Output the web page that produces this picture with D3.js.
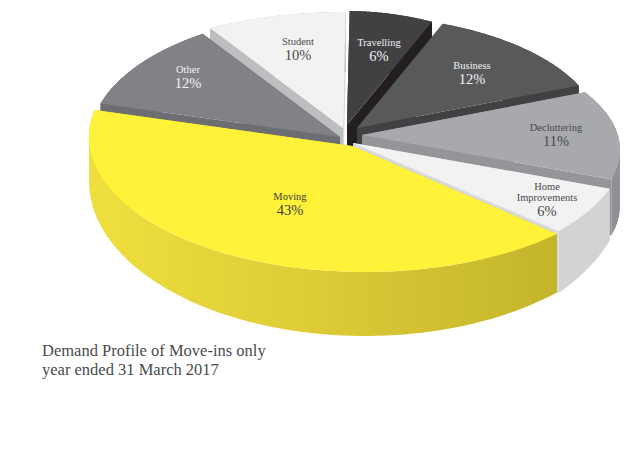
<!DOCTYPE html>
<html><head><meta charset="utf-8">
<script src="https://cdnjs.cloudflare.com/ajax/libs/d3/7.8.5/d3.min.js"></script>
<style>html,body{margin:0;background:#fff}svg{display:block}</style></head>
<body><div id="c"></div>
<script>
// Data, clockwise from the Moving slice
const categories = ["Moving","Other","Student","Travelling","Business","Decluttering","Home Improvements"];
const printedPercent = [43,12,10,6,12,11,6];
const drawnShare = [43.0,11.5,9.2,5.8,13.0,11.8,6.0];
const titleLines = ["Demand Profile of Move-ins only","year ended 31 March 2017"];

// Layout and style, per slice
const tipX = [352,340,343,347,357,362,353];
const tipY = [146,137,128,125,128,135,143];
const ellX = [365,345,345,345,355,365,360];
const ellY = [137,140,135,135,135,150,145];
const ellRx = [276,255,272,213,246,255,265];
const ellRy = [135,128,123,124,119,114,130];
const depthFrom = [61,60,60,60,60,56,52];
const depthTo = [61,60,60,60,60,56,62];
const floorCy = 181, floorRy = 155; // lower outline of the Moving slice's wall
const topFill = ["#fff238","#808285","#f2f2f2","#414042","#58595b","#a7a9ac","#f2f2f3"];
const edgeFill = ["#d8c832","#6d6e71","#bcbec0","#231f20","#414042","#939598","#d8d9db"];
const lastEdgeFill = ["#d8c832","#6d6e71","#d8d9db","#231f20","#414042","#939598","#d8d9db"];
const rimFill = ["url(#mv)","#6d6e71","#bcbec0","#231f20","#414042","#8e9093","#d1d3d4"];
const textFill = ["#3c3c3c","#f2f2f2","#4a4a4a","#f2f2f2","#f2f2f2","#4a4a4a","#4a4a4a"];
const labelX = [290,188,298,379,472,556,547];
const labelY = [197,70,42,43,66,128,187];
const paintOrder = [2,3,1,4,5,6,0];
const squash = 0.477, startDeg = 132;

const svg = d3.select("#c").append("svg").attr("width",628).attr("height",450);
const grad = svg.append("defs").append("linearGradient").attr("id","mv")
  .attr("gradientUnits","userSpaceOnUse").attr("x1",89).attr("x2",556).attr("y1",0).attr("y2",0);
[["0%","#efdf3e"],["50%","#dccb36"],["100%","#c3b42c"]].forEach(s=>grad.append("stop").attr("offset",s[0]).attr("stop-color",s[1]));

const start = startDeg*Math.PI/180;
const arcs = d3.pie().sort(null).startAngle(start).endAngle(start+2*Math.PI)(drawnShare);
const line = d3.line().x(p=>p[0]).y(p=>p[1]);

// where the ray at pie angle a from the slice's tip meets the slice's ellipse
function rim(i,a){
  const dx=Math.sin(a), dy=-Math.cos(a)*squash;
  const ox=(tipX[i]-ellX[i])/ellRx[i], oy=(tipY[i]-ellY[i])/ellRy[i];
  const ux=dx/ellRx[i], uy=dy/ellRy[i];
  const A=ux*ux+uy*uy, B=2*(ox*ux+oy*uy), C=ox*ox+oy*oy-1;
  const t=(-B+Math.sqrt(B*B-4*A*C))/(2*A);
  return [tipX[i]+t*dx, tipY[i]+t*dy];
}
const oriented=q=>d3.polygonArea(q)<0?q.slice().reverse():q;

paintOrder.forEach(i=>{
  const a=arcs[i], g=svg.append("g").attr("class","slice");
  const n=80;
  const outer=d3.range(0,n+1).map(k=>rim(i,a.startAngle+(a.endAngle-a.startAngle)*k/n));
  const dAt=d3.scaleLinear().domain([0,n]).range([depthFrom[i],depthTo[i]]);
  const under=k=>{
    const p=outer[k];
    if(i===0){
      const u=Math.max(-1,Math.min(1,(p[0]-ellX[0])/ellRx[0]));
      return [p[0],floorCy+floorRy*Math.sqrt(1-u*u)];
    }
    return [p[0],p[1]+dAt(k)];
  };
  const tip=[tipX[i],tipY[i]], tipLow=[tip[0],tip[1]+(depthFrom[i]+depthTo[i])/2];
  g.append("path").attr("d",line([tip,outer[n],under(n),tipLow])+"Z").attr("fill",lastEdgeFill[i]);
  g.append("path").attr("d",line([tip,outer[0],under(0),tipLow])+"Z").attr("fill",edgeFill[i]);
  // rim as same-way-round quads in one path, so the fold at the ellipse's side stays filled
  const rimPath=d3.range(0,n).map(k=>line(oriented([outer[k],outer[k+1],under(k+1),under(k)]))+"Z").join("");
  g.append("path").attr("d",rimPath).attr("fill",rimFill[i]);
  g.append("path").attr("d",line([tip].concat(outer))+"Z").attr("fill",topFill[i]);
});

const font="'Liberation Serif',serif";
categories.forEach((c,i)=>{
  const names=c==="Home Improvements"?["Home","Improvements"]:[c];
  const t=svg.append("g").attr("text-anchor","middle").attr("fill",textFill[i]).style("font-family",font);
  names.forEach((n,j)=>t.append("text").attr("x",labelX[i]).attr("y",labelY[i]+3+j*10.5).attr("font-size",10.5).text(n));
  t.append("text").attr("x",labelX[i]).attr("y",labelY[i]+18+(names.length-1)*10.5).attr("font-size",14.5).text(printedPercent[i]+"%");
});
titleLines.forEach((s,i)=>svg.append("text").attr("x",42).attr("y",356+i*18.5).attr("fill","#4a4a4c").style("font-family",font).attr("font-size",16.5).text(s));
</script></body></html>
